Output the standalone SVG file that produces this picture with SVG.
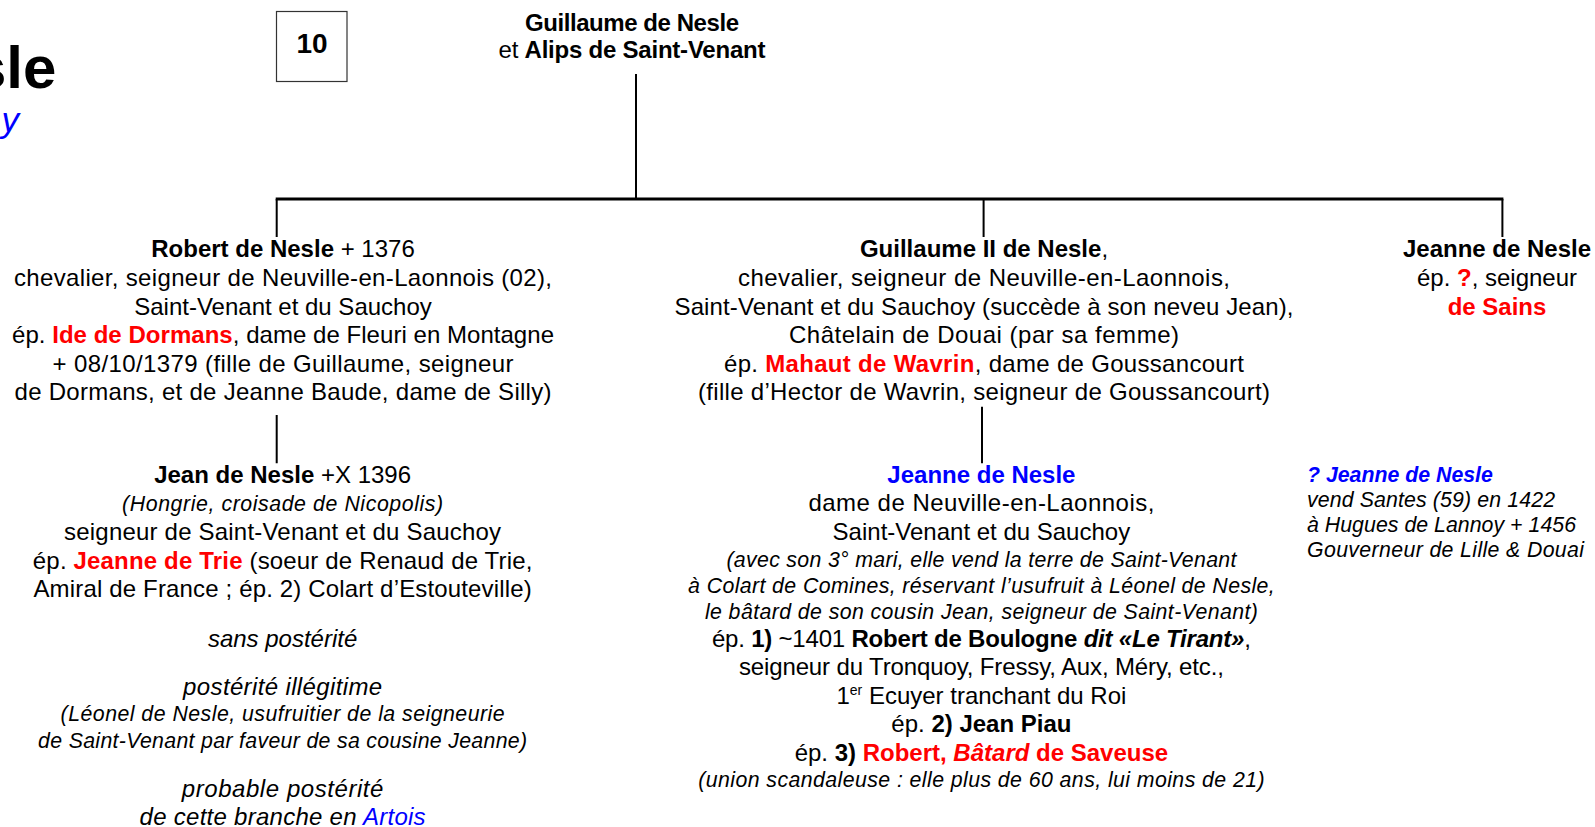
<svg xmlns="http://www.w3.org/2000/svg" width="1595" height="827" viewBox="0 0 1595 827">
<style>
text{font-family:"Liberation Sans",Arial,sans-serif;font-size:24px;fill:#000;text-anchor:middle}
.b{font-weight:bold}
.i{font-style:italic}
.s{font-size:21.3px;font-style:italic}
.red{fill:#ff0000;font-weight:bold}
.blue{fill:#0000ff}
.l{text-anchor:start}
.conn{stroke:#000;fill:none}
</style>
<rect width="1595" height="827" fill="#fff"/>
<g id="title">
<text class="b" x="-27" y="88" style="font-size:60px;text-anchor:start">sle</text>
<text class="i blue" x="19" y="132" style="font-size:35px;text-anchor:end">y</text>
</g>
<g id="box10">
<rect x="276.5" y="11.5" width="70.5" height="70" fill="#fff" stroke="#333" stroke-width="1.2"/>
<text class="b" x="312" y="53" style="font-size:28px">10</text>
</g>
<g id="connectors" class="conn">
<path d="M636 74 V199" stroke-width="2"/>
<path d="M275.7 199 H1503.4" stroke-width="3"/>
<path d="M276.7 199 V237 M983.6 199 V237 M1502.4 199 V237" stroke-width="2"/>
<path d="M276.7 415 V463.3 M982 406.7 V463.3" stroke-width="2"/>
</g>
<g id="root">
<text class="b" x="632" y="30.7" textLength="214">Guillaume de Nesle</text>
<text x="632" y="58.3" textLength="267">et <tspan class="b">Alips de Saint-Venant</tspan></text>
</g>
<g id="robert">
<text x="283" y="257.3"><tspan class="b">Robert de Nesle</tspan> + 1376</text>
<text x="283" y="285.9" textLength="538">chevalier, seigneur de Neuville-en-Laonnois (02),</text>
<text x="283" y="314.5">Saint-Venant et du Sauchoy</text>
<text x="283" y="343.1" textLength="542">ép. <tspan class="red">Ide de Dormans</tspan>, dame de Fleuri en Montagne</text>
<text x="283" y="371.7" textLength="461">+ 08/10/1379 (fille de Guillaume, seigneur</text>
<text x="283" y="400.3" textLength="537">de Dormans, et de Jeanne Baude, dame de Silly)</text>
</g>
<g id="guillaume2">
<text x="984" y="257.3"><tspan class="b">Guillaume II de Nesle</tspan>,</text>
<text x="984" y="285.9" textLength="492">chevalier, seigneur de Neuville-en-Laonnois,</text>
<text x="984" y="314.5" textLength="619">Saint-Venant et du Sauchoy (succède à son neveu Jean),</text>
<text x="984" y="343.1" textLength="390">Châtelain de Douai (par sa femme)</text>
<text x="984" y="371.7" textLength="520">ép. <tspan class="red">Mahaut de Wavrin</tspan>, dame de Goussancourt</text>
<text x="984" y="400.3" textLength="572">(fille d’Hector de Wavrin, seigneur de Goussancourt)</text>
</g>
<g id="jeanne-sains">
<text class="b" x="1497" y="257.3">Jeanne de Nesle</text>
<text x="1497" y="285.9">ép. <tspan class="red">?</tspan>, seigneur</text>
<text class="red" x="1497" y="314.5">de Sains</text>
</g>
<g id="jean">
<text x="282.6" y="482.7"><tspan class="b">Jean de Nesle</tspan> +X 1396</text>
<text class="s" x="282.6" y="511" textLength="321">(Hongrie, croisade de Nicopolis)</text>
<text x="282.6" y="540" textLength="437">seigneur de Saint-Venant et du Sauchoy</text>
<text x="282.6" y="568.5" textLength="499.5">ép. <tspan class="red">Jeanne de Trie</tspan> (soeur de Renaud de Trie,</text>
<text x="282.6" y="597.2" textLength="498.3">Amiral de France ; ép. 2) Colart d’Estouteville)</text>
<text class="i" x="282.6" y="646.7">sans postérité</text>
<text class="i" x="282.6" y="695" textLength="199">postérité illégitime</text>
<text class="s" x="282.6" y="721" textLength="444">(Léonel de Nesle, usufruitier de la seigneurie</text>
<text class="s" x="282.6" y="748.3" textLength="489">de Saint-Venant par faveur de sa cousine Jeanne)</text>
<text class="i" x="282.6" y="796.7" textLength="201.7">probable postérité</text>
<text class="i" x="282.6" y="825" textLength="286">de cette branche en <tspan class="blue">Artois</tspan></text>
</g>
<g id="jeanne">
<text class="b blue" x="981.4" y="482.7">Jeanne de Nesle</text>
<text x="981.4" y="511" textLength="346">dame de Neuville-en-Laonnois,</text>
<text x="981.4" y="540">Saint-Venant et du Sauchoy</text>
<text class="s" x="981.4" y="567.3" textLength="510">(avec son 3° mari, elle vend la terre de Saint-Venant</text>
<text class="s" x="981.4" y="592.9" textLength="586.6">à Colart de Comines, réservant l’usufruit à Léonel de Nesle,</text>
<text class="s" x="981.4" y="618.5" textLength="553">le bâtard de son cousin Jean, seigneur de Saint-Venant)</text>
<text x="981.4" y="646.7" textLength="539">ép. <tspan class="b">1)</tspan> ~1401 <tspan class="b">Robert de Boulogne <tspan class="i">dit «Le Tirant»</tspan></tspan>,</text>
<text x="981.4" y="675" textLength="485">seigneur du Tronquoy, Fressy, Aux, Méry, etc.,</text>
<text x="981.4" y="703.5">1<tspan style="font-size:14px" dy="-9">er</tspan><tspan dy="9"> Ecuyer tranchant du Roi</tspan></text>
<text x="981.4" y="732.4">ép. <tspan class="b">2) Jean Piau</tspan></text>
<text x="981.4" y="761">ép. <tspan class="b">3)</tspan> <tspan class="red">Robert, <tspan class="i">Bâtard</tspan> de Saveuse</tspan></text>
<text class="s" x="981.4" y="786.7" textLength="566.3">(union scandaleuse : elle plus de 60 ans, lui moins de 21)</text>
</g>
<g id="jeanne-santes">
<text class="b s blue l" x="1307" y="482">? Jeanne de Nesle</text>
<text class="s l" x="1307" y="507" textLength="248">vend Santes (59) en 1422</text>
<text class="s l" x="1307" y="532" textLength="269">à Hugues de Lannoy + 1456</text>
<text class="s l" x="1307" y="557" textLength="277">Gouverneur de Lille &amp; Douai</text>
</g>
</svg>
